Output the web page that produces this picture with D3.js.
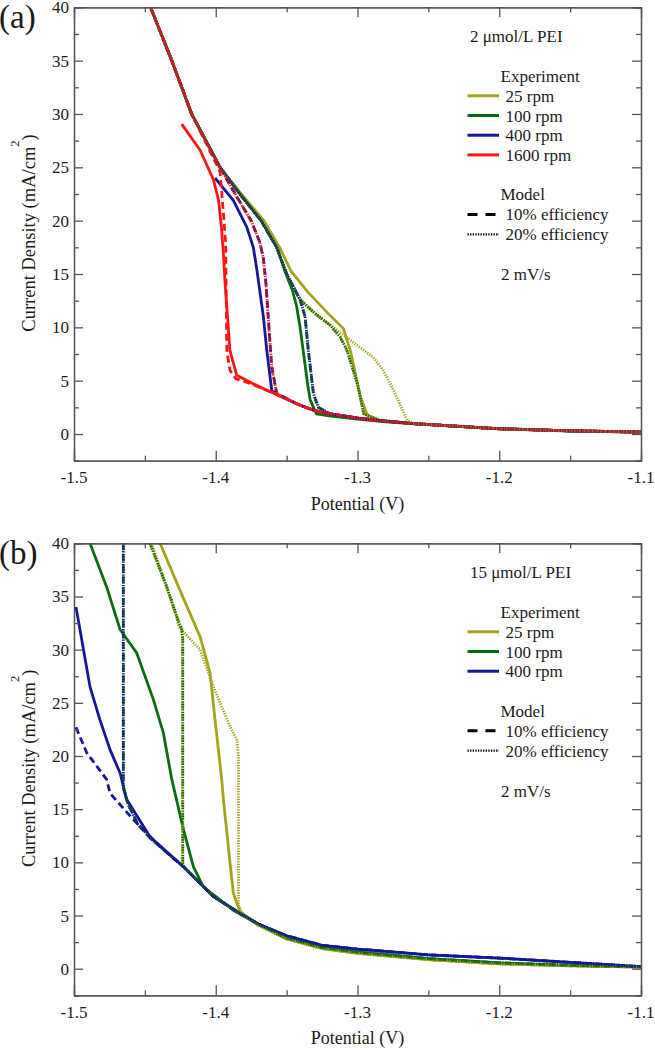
<!DOCTYPE html>
<html>
<head>
<meta charset="utf-8">
<script src="https://cdn.jsdelivr.net/npm/d3@7"></script>
</head>
<body style="margin:0">
<script>
// ---- data (potential in V, current density in mA/cm2) ----

var potentialTicks = [-1.5, -1.4, -1.3, -1.2, -1.1];
var potentialMinorTicks = [-1.45, -1.35, -1.25, -1.15];
var currentTicks = [0, 5, 10, 15, 20, 25, 30, 35, 40];
var currentMinorTicks = [-2.5, 2.5, 7.5, 12.5, 17.5, 22.5, 27.5, 32.5, 37.5];

var rpmLabelsA = ["25 rpm", "100 rpm", "400 rpm", "1600 rpm"];
var rpmLabelsB = ["25 rpm", "100 rpm", "400 rpm"];
var modelLabels = ["10% efficiency", "20% efficiency"];

// panel (a): 2 umol/L PEI
var aExp25 = [[-1.446,40],[-1.431,35],[-1.417,30],[-1.397,25],[-1.382,22.5],[-1.366,20],[-1.355,17.5],[-1.347,15.3],[-1.335,13.3],[-1.3193,11.1],[-1.310,9.9],[-1.305,7.8],[-1.298,3.5],[-1.293,1.75],[-1.285,1.3],[-1.26,0.98],[-1.2,0.5],[-1.15,0.3],[-1.1,0.19]];
var aExp100 = [[-1.446,40],[-1.431,35],[-1.417,30],[-1.397,25],[-1.383,22.5],[-1.368,20],[-1.357,17.5],[-1.351,15.2],[-1.346,13.5],[-1.343,12],[-1.3405,10],[-1.338,7.5],[-1.335,4.5],[-1.3334,3.2],[-1.329,1.9],[-1.32,1.7],[-1.30,1.4],[-1.28,1.15],[-1.26,0.95],[-1.2,0.48],[-1.15,0.28],[-1.1,0.18]];
var aExp400 = [[-1.4005,24],[-1.3876,21.9],[-1.3781,19.4],[-1.3735,17.5],[-1.371,15.4],[-1.3664,11.0],[-1.364,7.85],[-1.3605,4.1],[-1.357,3.7],[-1.3405,2.7],[-1.33,2.2],[-1.3193,1.9],[-1.30,1.5],[-1.28,1.2],[-1.2605,0.98],[-1.2017,0.5],[-1.15,0.3],[-1.1,0.19]];
var aExp1600 = [[-1.424,29.05],[-1.411,26.6],[-1.4015,23.8],[-1.398,21.9],[-1.396,19.4],[-1.3946,16.9],[-1.3934,14.1],[-1.39,7.85],[-1.3852,5.5],[-1.375,4.8],[-1.364,4.1],[-1.357,3.7],[-1.3405,2.7],[-1.33,2.2],[-1.3193,1.9],[-1.30,1.5],[-1.28,1.2],[-1.2605,0.98],[-1.2017,0.5],[-1.15,0.3],[-1.1,0.19]];
var aModel10_1600 = [[-1.446,40],[-1.431,35],[-1.417,30],[-1.397,24.6],[-1.3946,20.7],[-1.393,17.9],[-1.3922,7.85],[-1.39,5.98],[-1.386,5.2],[-1.375,4.7],[-1.364,4.1],[-1.357,3.7],[-1.3405,2.7],[-1.33,2.2],[-1.3193,1.9],[-1.30,1.5],[-1.28,1.2],[-1.2605,0.98],[-1.2017,0.5],[-1.15,0.3],[-1.1,0.19]];
var aModel20_1600 = [[-1.446,40],[-1.431,35],[-1.417,30],[-1.397,25],[-1.385,22.2],[-1.375,20],[-1.369,18],[-1.3664,16.5],[-1.3645,14],[-1.363,11],[-1.3605,6.3],[-1.357,3.8],[-1.3405,2.7],[-1.33,2.2],[-1.3193,1.9],[-1.30,1.5],[-1.28,1.2],[-1.2605,0.98],[-1.2017,0.5],[-1.15,0.3],[-1.1,0.19]];
var aModel10_400 = [[-1.446,40],[-1.431,35],[-1.417,30],[-1.397,25],[-1.385,22.2],[-1.375,20],[-1.369,18],[-1.3664,16.5],[-1.3645,14],[-1.363,11],[-1.3605,6.3],[-1.357,3.8],[-1.3405,2.7],[-1.33,2.2],[-1.3193,1.9],[-1.30,1.5],[-1.28,1.2],[-1.2605,0.98],[-1.2017,0.5],[-1.15,0.3],[-1.1,0.19]];
var aModel20_400 = [[-1.446,40],[-1.431,35],[-1.417,30],[-1.397,25],[-1.383,22.5],[-1.368,20],[-1.357,17.5],[-1.350,15],[-1.3405,12.6],[-1.337,11],[-1.3347,7.85],[-1.3311,3.8],[-1.3276,2.5],[-1.3193,1.9],[-1.30,1.5],[-1.28,1.2],[-1.2605,0.98],[-1.2017,0.5],[-1.15,0.3],[-1.1,0.19]];
var aModel10_100 = [[-1.446,40],[-1.431,35],[-1.417,30],[-1.397,25],[-1.383,22.5],[-1.368,20],[-1.357,17.5],[-1.350,15],[-1.3405,12.6],[-1.337,11],[-1.3347,7.85],[-1.3311,3.8],[-1.3276,2.5],[-1.3193,1.9],[-1.30,1.5],[-1.28,1.2],[-1.2605,0.98],[-1.2017,0.5],[-1.15,0.3],[-1.1,0.19]];
var aModel20_100 = [[-1.446,40],[-1.431,35],[-1.417,30],[-1.397,25],[-1.383,22.5],[-1.368,20],[-1.357,17.5],[-1.350,15],[-1.3405,12.6],[-1.33,11.3],[-1.3193,10.2],[-1.3123,9.1],[-1.3076,7.9],[-1.300,4.7],[-1.2956,1.9],[-1.285,1.3],[-1.2605,0.98],[-1.2017,0.5],[-1.15,0.3],[-1.1,0.19]];
var aModel10_25 = [[-1.446,40],[-1.431,35],[-1.417,30],[-1.397,25],[-1.383,22.5],[-1.368,20],[-1.357,17.5],[-1.350,15],[-1.3405,12.6],[-1.33,11.3],[-1.3193,10.2],[-1.3123,9.1],[-1.3076,7.9],[-1.300,4.7],[-1.2956,1.9],[-1.285,1.3],[-1.2605,0.98],[-1.2017,0.5],[-1.15,0.3],[-1.1,0.19]];
var aModel20_25 = [[-1.446,40],[-1.431,35],[-1.417,30],[-1.397,25],[-1.383,22.5],[-1.368,20],[-1.357,17.5],[-1.350,15],[-1.3405,12.6],[-1.33,11.3],[-1.3193,10.2],[-1.305,8.8],[-1.289,7.2],[-1.282,6.0],[-1.2745,4.1],[-1.265,1.3],[-1.2605,0.98],[-1.2017,0.5],[-1.15,0.3],[-1.1,0.19]];

// panel (b): 15 umol/L PEI
var bExp25 = [[-1.4393,40],[-1.425,35.5],[-1.411,31.2],[-1.404,27.8],[-1.4005,23.4],[-1.3958,17.8],[-1.3946,15.9],[-1.3899,9.9],[-1.3876,7.1],[-1.383,5.4],[-1.37,4.1],[-1.35,2.8],[-1.325,1.9],[-1.3,1.45],[-1.25,0.85],[-1.2,0.45],[-1.15,0.28],[-1.1,0.15]];
var bExp100 = [[-1.4887,40],[-1.477,35.9],[-1.4675,31.9],[-1.4558,29.7],[-1.444,25.3],[-1.437,22.2],[-1.431,17.8],[-1.4228,13.1],[-1.4158,9.6],[-1.4088,7.7],[-1.3876,5.5],[-1.37,4.2],[-1.35,2.9],[-1.325,2.0],[-1.3,1.55],[-1.25,0.95],[-1.2,0.55],[-1.15,0.32],[-1.1,0.18]];
var bExp400 = [[-1.4986,34],[-1.4958,31.9],[-1.4887,26.5],[-1.4817,23.4],[-1.4746,20.6],[-1.4675,18.4],[-1.4628,15.9],[-1.4464,12.4],[-1.4229,9.6],[-1.4017,6.8],[-1.3829,5.2],[-1.37,4.2],[-1.35,3.1],[-1.325,2.2],[-1.3,1.85],[-1.25,1.3],[-1.2,1.0],[-1.15,0.6],[-1.1,0.2]];
var bModel10_400 = [[-1.4986,22.7],[-1.491,20.3],[-1.477,17.8],[-1.4746,16.5],[-1.458,14.0],[-1.4393,11.5],[-1.43,10.4],[-1.4229,9.6],[-1.4017,6.8],[-1.3829,5.2],[-1.37,4.2],[-1.35,3.1],[-1.325,2.2],[-1.3,1.85],[-1.25,1.3],[-1.2,1.0],[-1.15,0.6],[-1.1,0.2]];
var bModel20_400 = [[-1.4652,40],[-1.4652,17],[-1.462,15.5],[-1.455,13.6],[-1.4464,12.3],[-1.4229,9.6],[-1.4017,6.8],[-1.3829,5.2],[-1.37,4.2],[-1.35,3.1],[-1.325,2.2],[-1.3,1.85],[-1.25,1.3],[-1.2,1.0],[-1.15,0.6],[-1.1,0.2]];
var bModel10_100 = [[-1.4652,40],[-1.4652,17],[-1.462,15.5],[-1.455,13.6],[-1.4464,12.3],[-1.4229,9.6],[-1.4017,6.8],[-1.3829,5.2],[-1.37,4.2],[-1.35,2.9],[-1.325,2.0],[-1.3,1.55],[-1.25,0.95],[-1.2,0.55],[-1.15,0.32],[-1.1,0.18]];
var bModel20_100 = [[-1.4464,40],[-1.4346,35.9],[-1.4275,33.1],[-1.424,31.9],[-1.4233,31],[-1.4233,10],[-1.4229,9.6],[-1.4017,6.8],[-1.3829,5.2],[-1.37,4.2],[-1.35,2.9],[-1.325,2.0],[-1.3,1.55],[-1.25,0.95],[-1.2,0.55],[-1.15,0.32],[-1.1,0.18]];
var bModel10_25 = [[-1.4464,40],[-1.4346,35.9],[-1.4275,33.1],[-1.424,31.9],[-1.4233,31],[-1.4233,10],[-1.4229,9.6],[-1.4017,6.8],[-1.3829,5.2],[-1.37,4.1],[-1.35,2.8],[-1.325,1.9],[-1.3,1.45],[-1.25,0.85],[-1.2,0.45],[-1.15,0.28],[-1.1,0.15]];
var bModel20_25 = [[-1.4452,40],[-1.4346,35.9],[-1.4275,33.1],[-1.4264,32.2],[-1.4111,30.0],[-1.4017,26.5],[-1.39,22.8],[-1.3852,21.5],[-1.384,20],[-1.384,6],[-1.3805,5.0],[-1.37,4.1],[-1.35,2.8],[-1.325,1.9],[-1.3,1.45],[-1.25,0.85],[-1.2,0.45],[-1.15,0.28],[-1.1,0.15]];

// ---- styles ----
var colors = {
	r25: "#a3a31c",
	r100: "#0c6b0c",
	r400: "#16169a",
	r1600: "#ff1414"
};
var textColor = "#1a1a1a";
var axisColor = "#555555";
var dashed = "7,4";
var dotted = "1.3,1.3";

var svg = d3.select("body").append("svg")
	.attr("width", 655)
	.attr("height", 1050)
	.style("font-family", "'Times New Roman'");

var x = d3.scaleLinear().domain([-1.5, -1.1]).range([74, 641]);

/**
 * Adds a serif text element straight onto the svg root.
 */
function addText(tx, ty, size, str)
{
	return svg.append("text")
		.attr("x", tx)
		.attr("y", ty)
		.attr("fill", textColor)
		.style("font-family", "'Times New Roman'")
		.style("font-size", size + "px")
		.text(str);
}

/**
 * Draws one panel with its frame, axes, curves and legend.
 */
function drawPanel(opts)
{
	var top = opts.top, bottom = opts.bottom;
	var left = x.range()[0], right = x.range()[1];
	var y = d3.scaleLinear().domain([-2.5, 40]).range([bottom, top]);
	var g = svg.append("g");

	// clip the curves to the plot area
	g.append("clipPath").attr("id", opts.id + "-clip")
		.append("rect")
		.attr("x", left).attr("y", top)
		.attr("width", right - left)
		.attr("height", bottom - top);

	var line = d3.line()
		.x(function(d) { return x(d[0]); })
		.y(function(d) { return y(d[1]); });

	var curves = g.append("g").attr("clip-path", "url(#" + opts.id + "-clip)");
	opts.series.forEach(function(s) {
		curves.append("path")
			.datum(s.data)
			.attr("fill", "none")
			.attr("stroke", s.color)
			.attr("stroke-width", 2.8)
			.attr("stroke-linejoin", "round")
			.attr("stroke-dasharray", s.dash)
			.attr("d", line);
	});

	// axes (lines and ticks only), ticks all pointing inward
	function styleAxis(sel) {
		sel.selectAll(".domain").attr("stroke", axisColor).attr("stroke-width", 1.3);
		sel.selectAll(".tick line").attr("stroke", axisColor).attr("stroke-width", 1.3);
		sel.selectAll(".tick text").remove();
	}

	g.append("g").attr("transform", "translate(0," + bottom + ")")
		.call(d3.axisBottom(x).tickValues(potentialTicks).tickSizeInner(-10).tickSizeOuter(0))
		.call(styleAxis);
	g.append("g").attr("transform", "translate(0," + bottom + ")")
		.call(d3.axisBottom(x).tickValues(potentialMinorTicks).tickSize(-5))
		.call(styleAxis);
	g.append("g").attr("transform", "translate(0," + top + ")")
		.call(d3.axisTop(x).tickValues(potentialTicks).tickSizeInner(-10).tickSizeOuter(0))
		.call(styleAxis);
	g.append("g").attr("transform", "translate(0," + top + ")")
		.call(d3.axisTop(x).tickValues(potentialMinorTicks).tickSize(-5))
		.call(styleAxis);
	g.append("g").attr("transform", "translate(" + left + ",0)")
		.call(d3.axisLeft(y).tickValues(currentTicks).tickSizeInner(-9).tickSizeOuter(0))
		.call(styleAxis);
	g.append("g").attr("transform", "translate(" + left + ",0)")
		.call(d3.axisLeft(y).tickValues(currentMinorTicks).tickSize(-5))
		.call(styleAxis);
	g.append("g").attr("transform", "translate(" + right + ",0)")
		.call(d3.axisRight(y).tickValues(currentTicks).tickSizeInner(-9).tickSizeOuter(0))
		.call(styleAxis);
	g.append("g").attr("transform", "translate(" + right + ",0)")
		.call(d3.axisRight(y).tickValues(currentMinorTicks).tickSize(-5))
		.call(styleAxis);

	// tick labels, placed with the same scales
	potentialTicks.forEach(function(t) {
		addText(x(t), bottom + 22.5, 17, t.toFixed(1)).attr("text-anchor", "middle");
	});
	currentTicks.forEach(function(t) {
		addText(left - 5, y(t) + 6, 17, String(t)).attr("text-anchor", "end");
	});

	// axis titles
	addText((left + right) / 2, bottom + 49, 18, "Potential (V)")
		.attr("text-anchor", "middle");

	var yTitle = addText(0, 0, 18.5, null)
		.attr("transform", "translate(35," + ((top + bottom) / 2 - 1) + ") rotate(-90)")
		.attr("text-anchor", "middle");
	yTitle.append("tspan").text("Current Density (mA/cm");
	yTitle.append("tspan").attr("dy", -16).style("font-size", "12.5px").text("2");
	yTitle.append("tspan").attr("dy", 16).text(")");

	// panel letter
	addText(-1, top + 21, 33, opts.letter);

	// legend
	function legendLine(ty, color, dash, width) {
		g.append("line")
			.attr("x1", 467.5).attr("x2", 499)
			.attr("y1", top + ty).attr("y2", top + ty)
			.attr("stroke", color)
			.attr("stroke-width", width)
			.attr("stroke-dasharray", dash);
	}

	addText(470, top + 35, 17, opts.title);
	addText(500.5, top + 75, 17, "Experiment");
	var rowY = 94.5;
	opts.rpmLabels.forEach(function(label, i) {
		legendLine(rowY - 6, opts.rpmColors[i], null, 3);
		addText(505.5, top + rowY, 17, label);
		rowY += 19.7;
	});
	var modelY = rowY - 19.7 + 39.5;
	addText(500.5, top + modelY, 17, "Model");
	legendLine(modelY + 20 - 6, "#000000", "10,8", 3);
	addText(505.5, top + modelY + 20, 17, modelLabels[0]);
	legendLine(modelY + 40 - 6, "#000000", "1.3,1.3", 2.2);
	addText(505.5, top + modelY + 40, 17, modelLabels[1]);
	addText(501, top + modelY + 80, 17, "2 mV/s");
}

drawPanel({
	id: "pa",
	top: 7.3,
	bottom: 460.7,
	letter: "(a)",
	title: "2 \u03bcmol/L PEI",
	rpmLabels: rpmLabelsA,
	rpmColors: [colors.r25, colors.r100, colors.r400, colors.r1600],
	series: [
		{ data: aExp25, color: colors.r25, dash: null },
		{ data: aExp100, color: colors.r100, dash: null },
		{ data: aExp400, color: colors.r400, dash: null },
		{ data: aExp1600, color: colors.r1600, dash: null },
		{ data: aModel10_25, color: colors.r25, dash: dashed },
		{ data: aModel10_100, color: colors.r100, dash: dashed },
		{ data: aModel10_400, color: colors.r400, dash: dashed },
		{ data: aModel10_1600, color: colors.r1600, dash: dashed },
		{ data: aModel20_25, color: colors.r25, dash: dotted },
		{ data: aModel20_100, color: colors.r100, dash: dotted },
		{ data: aModel20_400, color: colors.r400, dash: dotted },
		{ data: aModel20_1600, color: colors.r1600, dash: dotted }
	]
});

drawPanel({
	id: "pb",
	top: 543.3,
	bottom: 995.3,
	letter: "(b)",
	title: "15 \u03bcmol/L PEI",
	rpmLabels: rpmLabelsB,
	rpmColors: [colors.r25, colors.r100, colors.r400],
	series: [
		{ data: bExp25, color: colors.r25, dash: null },
		{ data: bExp100, color: colors.r100, dash: null },
		{ data: bExp400, color: colors.r400, dash: null },
		{ data: bModel10_25, color: colors.r25, dash: dashed },
		{ data: bModel10_100, color: colors.r100, dash: dashed },
		{ data: bModel10_400, color: colors.r400, dash: dashed },
		{ data: bModel20_25, color: colors.r25, dash: dotted },
		{ data: bModel20_100, color: colors.r100, dash: dotted },
		{ data: bModel20_400, color: colors.r400, dash: dotted }
	]
});
</script>
</body>
</html>
